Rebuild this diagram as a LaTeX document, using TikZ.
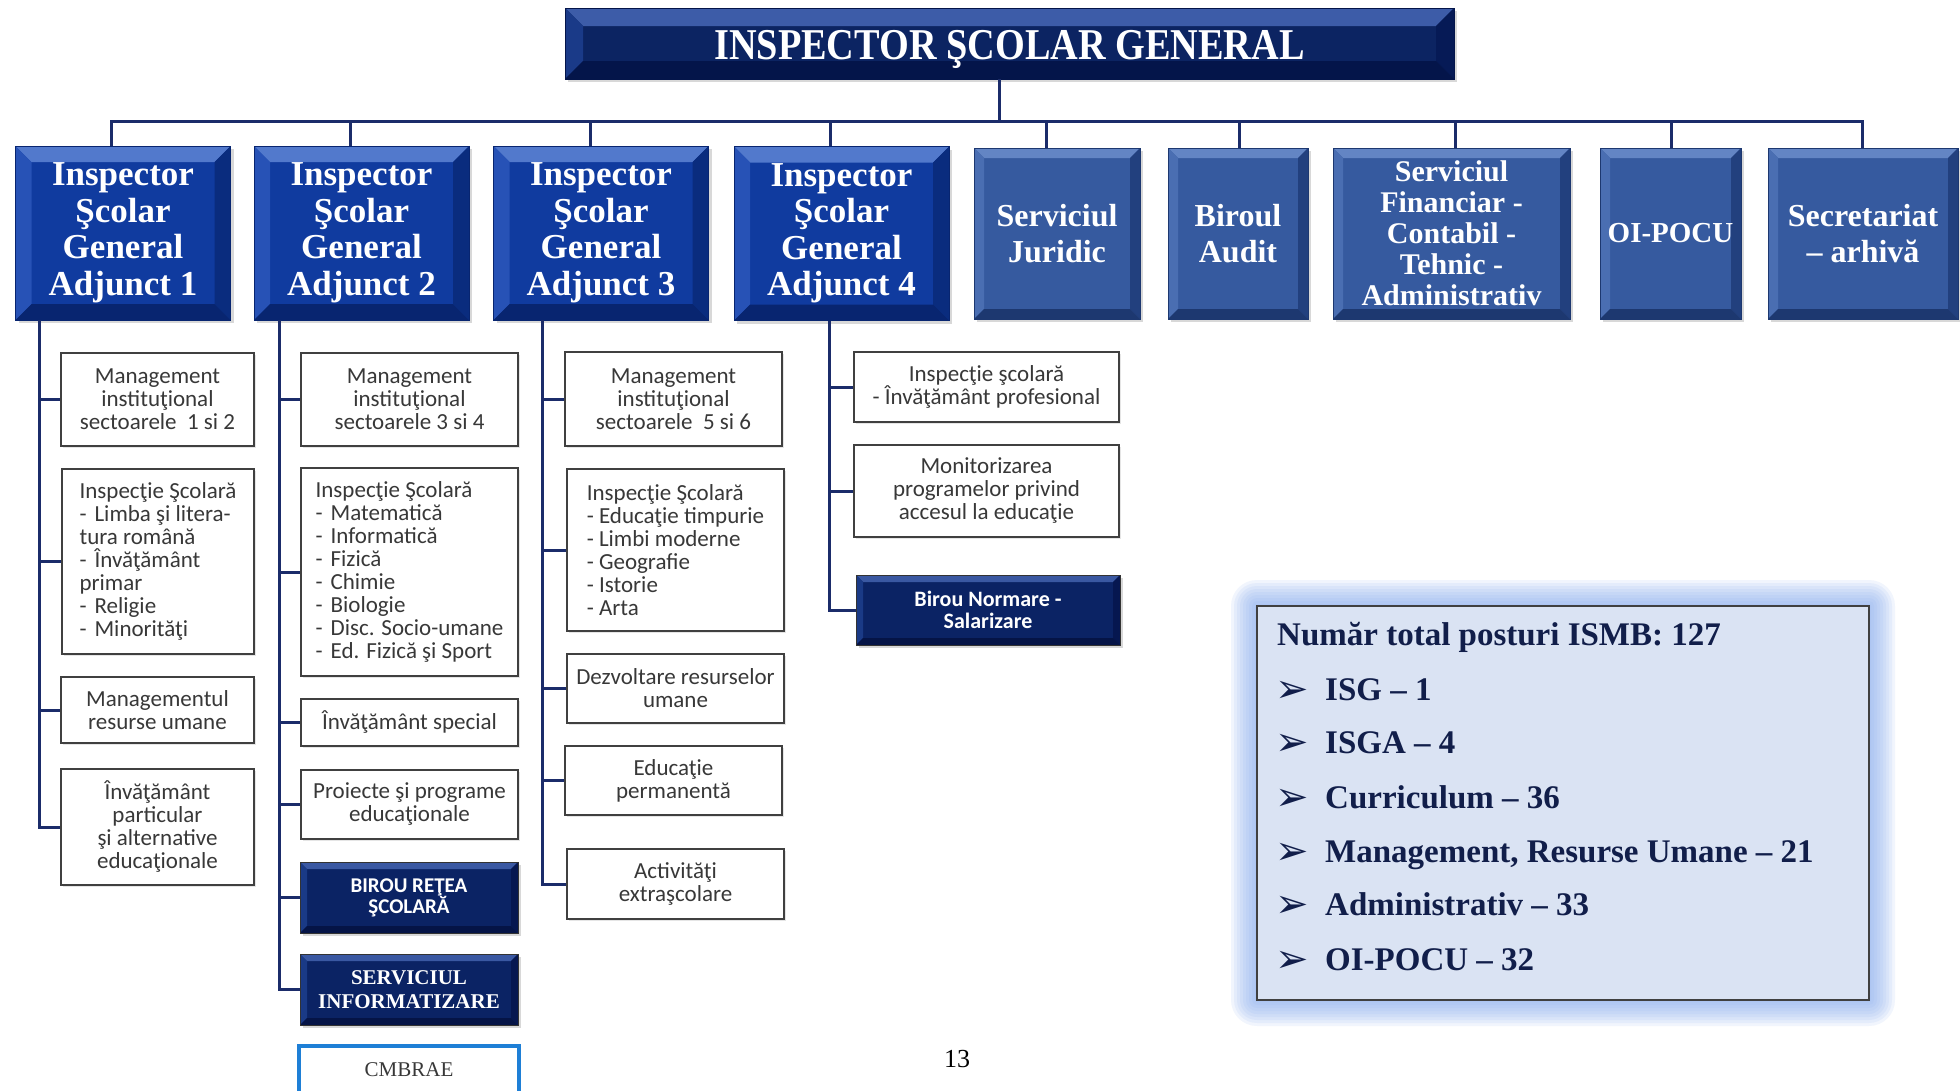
\documentclass[tikz,border=0pt]{standalone}
\usepackage{fontspec}
\usepackage{graphicx}
\setmainfont{Liberation Serif}
\newfontfamily\calfont{Carlito}
\newfontfamily\dvfont{DejaVu Sans}
\usetikzlibrary{shadows}
\definecolor{linec}{HTML}{1B2C6A}
\definecolor{topF}{HTML}{0C2462}
\definecolor{topT}{HTML}{3D5CA8}
\definecolor{topL}{HTML}{1A3A88}
\definecolor{topR}{HTML}{061A56}
\definecolor{topB}{HTML}{04154A}
\definecolor{isF}{HTML}{103B9F}
\definecolor{isT}{HTML}{5279CC}
\definecolor{isL}{HTML}{2752B6}
\definecolor{isR}{HTML}{0A2C7E}
\definecolor{isB}{HTML}{082570}
\definecolor{svF}{HTML}{365A9F}
\definecolor{svT}{HTML}{6385C4}
\definecolor{svL}{HTML}{4A6EB2}
\definecolor{svR}{HTML}{22407E}
\definecolor{svB}{HTML}{1D3870}
\definecolor{dkF}{HTML}{0B2364}
\definecolor{dkT}{HTML}{3A58A2}
\definecolor{dkL}{HTML}{1A3A86}
\definecolor{dkR}{HTML}{061750}
\definecolor{dkB}{HTML}{051446}
\definecolor{txtg}{HTML}{383838}
\definecolor{sumF}{HTML}{DAE3F3}
\definecolor{sumT}{HTML}{111E4A}
\definecolor{glowc}{HTML}{8DAEF0}
\definecolor{cmbc}{HTML}{1E7FD6}
\newcommand\dsh{\makebox[15pt][l]{-}}
\tikzset{
 conn/.style={draw=linec, line width=3pt},
 bev/.style n args={6}{fill=#2, path picture={
   \coordinate (pNW) at (path picture bounding box.north west);
   \coordinate (pNE) at (path picture bounding box.north east);
   \coordinate (pSW) at (path picture bounding box.south west);
   \coordinate (pSE) at (path picture bounding box.south east);
   \fill[#3] (pNW) -- (pNE) -- ([xshift=-#1,yshift=-#1]pNE) -- ([xshift=#1,yshift=-#1]pNW) -- cycle;
   \fill[#4] (pNW) -- ([xshift=#1,yshift=-#1]pNW) -- ([xshift=#1,yshift=#1]pSW) -- (pSW) -- cycle;
   \fill[#5] (pNE) -- ([xshift=-#1,yshift=-#1]pNE) -- ([xshift=-#1,yshift=#1]pSE) -- (pSE) -- cycle;
   \fill[#6] (pSW) -- (pSE) -- ([xshift=-#1,yshift=#1]pSE) -- ([xshift=#1,yshift=#1]pSW) -- cycle;
 }},
 shad/.style={drop shadow={shadow xshift=3pt, shadow yshift=-3pt, opacity=0.3}},
 lshad/.style={drop shadow={shadow xshift=2pt, shadow yshift=-2pt, opacity=0.2}},
 topbox/.style={bev={18pt}{topF}{topT}{topL}{topR}{topB}, shad, draw=topB, line width=0.8pt, inner sep=0pt,
   minimum width=889pt, minimum height=71pt, text=white, font=\fontsize{44}{46}\selectfont\bfseries},
 isgabox/.style={bev={16pt}{isF}{isT}{isL}{isR}{isB}, shad, draw=isB, line width=0.8pt, inner sep=0pt,
   minimum width=215pt, minimum height=174pt, text=white, align=center, font=\fontsize{35}{36.5}\selectfont\bfseries},
 svbox/.style={bev={10pt}{svF}{svT}{svL}{svR}{svB}, shad, draw=svB, line width=0.8pt, inner sep=0pt,
   minimum height=171pt, text=white, align=center, font=\fontsize{32}{36}\selectfont\bfseries},
 dkbox/.style={bev={7pt}{dkF}{dkT}{dkL}{dkR}{dkB}, shad, draw=black!80, line width=1pt, inner sep=0pt,
   text=white, align=center},
 cbox/.style={draw=black!75, line width=1.8pt, fill=white, lshad, inner sep=0pt, align=center, text=txtg,
   font=\calfont\fontsize{23}{23}\selectfont},
 sumtxt/.style={anchor=base west, inner sep=0pt, text=sumT, font=\fontsize{33}{36}\selectfont\bfseries},
 sumbul/.style={anchor=base west, inner sep=0pt, text=sumT, font=\dvfont\fontsize{40}{40}\selectfont},
}
\begin{document}
\begin{tikzpicture}[x=1pt,y=-1pt]
\useasboundingbox (0,0) rectangle (1960,1090);
\fill[white] (0,0) rectangle (1960,1090);
\clip (0,0) rectangle (1960,1090);

% top
\node[topbox] (top) at (1009.5,43.5) {\raisebox{-16pt}[0pt][0pt]{\scalebox{0.87}[1]{INSPECTOR ŞCOLAR GENERAL}}};

% second row
\node[isgabox] (isga1) at (123,233) {Inspector\\Şcolar\\General\\Adjunct 1};
\node[isgabox] (isga2) at (361.5,233) {Inspector\\Şcolar\\General\\Adjunct 2};
\node[isgabox] (isga3) at (601,233) {Inspector\\Şcolar\\General\\Adjunct 3};
\node[isgabox] (isga4) at (841.5,233.5) {Inspector\\Şcolar\\General\\Adjunct 4};
\node[svbox, minimum width=166pt] (jur) at (1057,233.5) {Serviciul\\Juridic};
\node[svbox, minimum width=140pt] (aud) at (1238,233.5) {Biroul\\Audit};
\node[svbox, minimum width=237pt, font=\fontsize{30}{31}\selectfont\bfseries] (fin) at (1451.5,233.5)
  {Serviciul\\Financiar -\\Contabil -\\Tehnic -\\Administrativ};
\node[svbox, minimum width=141pt, font=\fontsize{29}{31}\selectfont\bfseries] (oip) at (1670.5,233.5) {OI-POCU};
\node[svbox, minimum width=190pt] (sec) at (1863,233.5) {Secretariat\\– arhivă};

% column 1
\node[cbox, minimum width=193pt, minimum height=93pt] (m1) at (157.5,399.5) {Management\\instituţional\\sectoarele\ \ 1 si 2};
\node[cbox, minimum width=192pt, minimum height=185pt, align=left] (i1) at (158,561.5)
  {Inspecţie Şcolară\\\dsh Limba şi litera-\\tura română\\\dsh Învăţământ\\primar\\\dsh Religie\\\dsh Minorităţi};
\node[cbox, minimum width=193pt, minimum height=66pt] (r1) at (157.5,710) {Managementul\\resurse umane};
\node[cbox, minimum width=193pt, minimum height=116pt] (p1) at (157.5,827) {Învăţământ\\particular\\şi alternative\\educaţionale};

% column 2
\node[cbox, minimum width=217pt, minimum height=93pt] (m2) at (409.5,399.5) {Management\\instituţional\\sectoarele 3 si 4};
\node[cbox, minimum width=217pt, minimum height=208pt, align=left] (i2) at (409.5,572)
  {Inspecţie Şcolară\\\dsh Matematică\\\dsh Informatică\\\dsh Fizică\\\dsh Chimie\\\dsh Biologie\\\dsh Disc. Socio-umane\\\dsh Ed. Fizică şi Sport};
\node[cbox, minimum width=217pt, minimum height=47pt] (e2) at (409.5,722.5) {Învăţământ special};
\node[cbox, minimum width=217pt, minimum height=69pt] (pp2) at (409.5,804.5) {Proiecte şi programe\\educaţionale};
\node[dkbox, minimum width=218pt, minimum height=71pt, font=\calfont\bfseries\fontsize{21}{21}\selectfont] (br2) at (409,897.5) {BIROU REŢEA\\ŞCOLARĂ};
\node[dkbox, minimum width=218pt, minimum height=71pt, font=\bfseries\fontsize{21}{24}\selectfont] (si2) at (409,989.5) {SERVICIUL\\INFORMATIZARE};
\node[draw=cmbc, line width=4pt, fill=white, minimum width=220pt, minimum height=48pt, inner sep=0pt,
  font=\fontsize{21}{24}\selectfont, text=txtg] (cm2) at (409,1070) {CMBRAE};

% column 3
\node[cbox, minimum width=217pt, minimum height=94pt] (m3) at (673.5,399) {Management\\instituţional\\sectoarele\ \ 5 si 6};
\node[cbox, minimum width=217pt, minimum height=162pt, align=left] (i3) at (675.5,550)
  {Inspecţie Şcolară\\- Educaţie timpurie\\- Limbi moderne\\- Geografie\\- Istorie\\- Arta};
\node[cbox, minimum width=217pt, minimum height=69pt] (d3) at (675.5,688.5) {Dezvoltare resurselor\\umane};
\node[cbox, minimum width=217pt, minimum height=69pt] (ep3) at (673.5,780.5) {Educaţie\\permanentă};
\node[cbox, minimum width=217pt, minimum height=70pt] (a3) at (675.5,884) {Activităţi\\extraşcolare};

% column 4
\node[cbox, minimum width=265pt, minimum height=70pt] (ip4) at (986.5,387) {Inspecţie şcolară\\- Învăţământ profesional};
\node[cbox, minimum width=265pt, minimum height=92pt] (ma4) at (986.5,491) {Monitorizarea\\programelor privind\\accesul la educaţie};
\node[dkbox, minimum width=264pt, minimum height=70pt, font=\calfont\bfseries\fontsize{22}{22}\selectfont] (bn4) at (988,610) {Birou Normare -\\Salarizare};

% connectors top
\coordinate (t0) at (999,121);
\coordinate (b1) at (111,121);
\coordinate (b2) at (350,121);
\coordinate (b3) at (590,121);
\coordinate (b4) at (830,121);
\coordinate (b5) at (1046,121);
\coordinate (b6) at (1239,121);
\coordinate (b7) at (1455,121);
\coordinate (b8) at (1671,121);
\coordinate (b9) at (1862,121);
\draw[conn] (top.south -| t0) -- (t0);
\draw[conn, line cap=rect] (b1) -- (b9);
\draw[conn] (b1) -- (isga1.north -| b1);
\draw[conn] (b2) -- (isga2.north -| b2);
\draw[conn] (b3) -- (isga3.north -| b3);
\draw[conn] (b4) -- (isga4.north -| b4);
\draw[conn] (b5) -- (jur.north -| b5);
\draw[conn] (b6) -- (aud.north -| b6);
\draw[conn] (b7) -- (fin.north -| b7);
\draw[conn] (b8) -- (oip.north -| b8);
\draw[conn] (b9) -- (sec.north -| b9);

% column connectors
\coordinate (v1) at (39,330);
\coordinate (v2) at (279,330);
\coordinate (v3) at (542,330);
\coordinate (v4) at (829,330);
\foreach \n in {m1,i1,r1,p1} \draw[conn] (isga1.south -| v1) |- (\n.west);
\foreach \n in {m2,i2,e2,pp2,br2,si2} \draw[conn] (isga2.south -| v2) |- (\n.west);
\foreach \n in {m3,i3,d3,ep3,a3} \draw[conn] (isga3.south -| v3) |- (\n.west);
\foreach \n in {ip4,ma4,bn4} \draw[conn] (isga4.south -| v4) |- (\n.west);

% summary box with glow
\foreach \g in {26,23,...,2}
  \fill[glowc, opacity=0.12, rounded corners=\g pt] ({1257-\g},{606-\g}) rectangle ({1869+\g},{1000+\g});
\node[draw=black!75, line width=2pt, fill=sumF, minimum width=612pt, minimum height=394pt, inner sep=0pt] (sum) at (1563,803) {};
\node[sumtxt] (sumt) at (1277,645) {Număr total posturi ISMB: 127};
\node[sumbul] (u1) at (1275,702) {➢};
\node[sumtxt] (s1) at (1325,700) {ISG – 1};
\node[sumbul] (u2) at (1275,755) {➢};
\node[sumtxt] (s2) at (1325,753) {ISGA – 4};
\node[sumbul] (u3) at (1275,810) {➢};
\node[sumtxt] (s3) at (1325,808) {Curriculum – 36};
\node[sumbul] (u4) at (1275,864) {➢};
\node[sumtxt] (s4) at (1325,862) {Management, Resurse Umane – 21};
\node[sumbul] (u5) at (1275,917) {➢};
\node[sumtxt] (s5) at (1325,915) {Administrativ – 33};
\node[sumbul] (u6) at (1275,972) {➢};
\node[sumtxt] (s6) at (1325,970) {OI-POCU – 32};

% page number
\node[font=\fontsize{26}{26}\selectfont] (pg) at (957,1059) {13};
\end{tikzpicture}
\end{document}
